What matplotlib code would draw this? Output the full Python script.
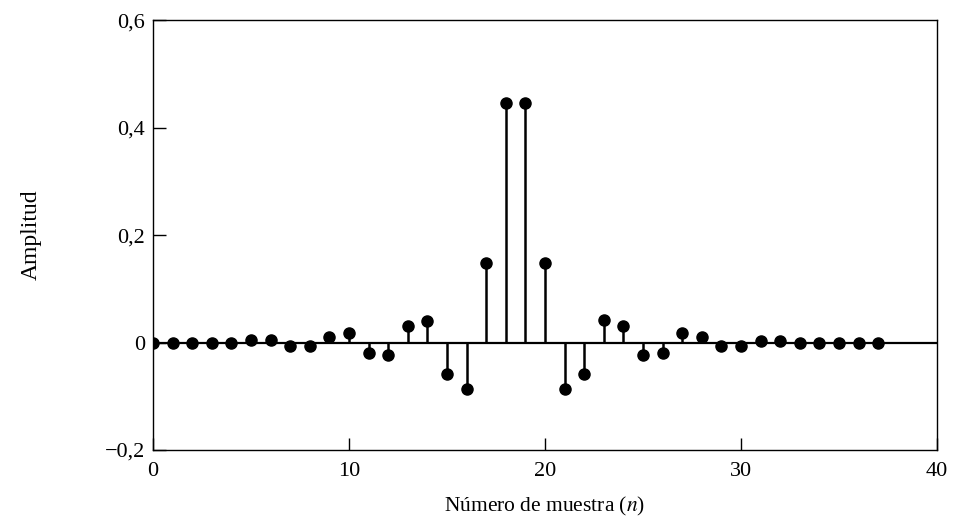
import numpy as np
import matplotlib
matplotlib.use("Agg")
import matplotlib.pyplot as plt

# sample index and amplitude
n = np.arange(38)
amplitud = [0.000, 0.000, 0.000, 0.000, 0.000, 0.004, 0.004, -0.006, -0.007, 0.011,
            0.018, -0.020, -0.024, 0.030, 0.040, -0.058, -0.087, 0.148, 0.446, 0.446,
            0.148, -0.087, -0.058, 0.041, 0.031, -0.024, -0.020, 0.018, 0.011, -0.007,
            -0.006, 0.003, 0.003, 0.000, 0.000, 0.000, 0.000, 0.000]

xticks = [0, 10, 20, 30, 40]
yticks = [-0.2, 0, 0.2, 0.4, 0.6]
yticklabels = ["\u22120,2", "0", "0,2", "0,4", "0,6"]

plt.rcParams['font.family'] = ['Liberation Serif', 'DejaVu Serif']
plt.rcParams['mathtext.fontset'] = 'stix'

fig = plt.figure(figsize=(9.57, 5.30), dpi=100)
ax = fig.add_axes([0.160, 0.151, 0.819, 0.811])

ax.axhline(0, color='black', lw=1.6, zorder=1)
markerline, stemlines, baseline = ax.stem(n, amplitud, linefmt='k-', markerfmt='ko', basefmt=' ')
plt.setp(stemlines, linewidth=1.8)
plt.setp(markerline, markersize=8)

ax.set_xlim(0, 40)
ax.set_ylim(-0.2, 0.6)
ax.set_xticks(xticks)
ax.set_xticklabels([str(t) for t in xticks])
ax.set_yticks(yticks)
ax.set_yticklabels(yticklabels)
ax.tick_params(direction='in', length=9, width=1, labelsize=16)
ax.tick_params(axis='x', pad=9)
ax.tick_params(axis='y', pad=6)

for s in ax.spines.values():
    s.set_linewidth(1.0)

ax.set_xlabel('Número de muestra ($n$)', fontsize=15.5, labelpad=10)
ax.set_ylabel('Amplitud', fontsize=17, labelpad=45)

fig.savefig('out.png', dpi=100)
